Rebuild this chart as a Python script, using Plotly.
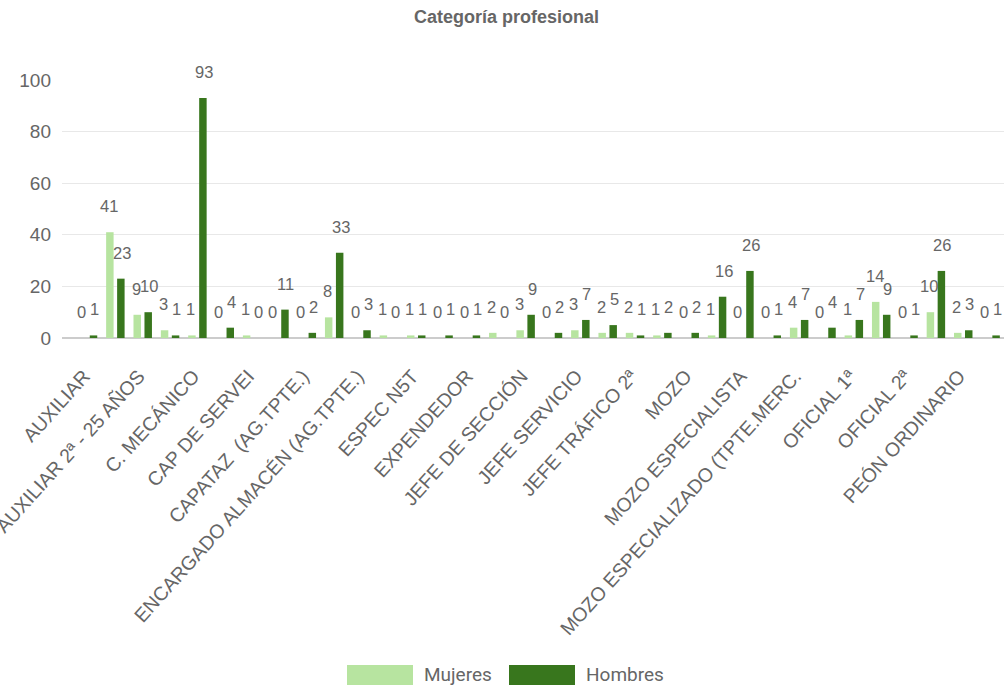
import plotly.graph_objects as go

# Visible category labels (every other category carries a label on the axis)
tick_labels = [
    "AUXILIAR", "AUXILIAR 2ª - 25 AÑOS", "C. MECÁNICO", "CAP DE SERVEI",
    "CAPATAZ  (AG.TPTE.)", "ENCARGADO ALMACÉN (AG.TPTE.)", "ESPEC N5T",
    "EXPENDEDOR", "JEFE DE SECCIÓN", "JEFE SERVICIO", "JEFE TRÁFICO 2ª",
    "MOZO", "MOZO ESPECIALISTA", "MOZO ESPECIALIZADO (TPTE.MERC.",
    "OFICIAL 1ª", "OFICIAL 2ª", "PEÓN ORDINARIO",
]
mujeres = [0, 41, 9, 3, 1, 0, 1, 0, 0, 8, 0, 1, 1, 0, 0, 2, 3,
           0, 3, 2, 2, 1, 0, 1, 0, 0, 4, 0, 1, 14, 0, 10, 2, 0]
hombres = [1, 23, 10, 1, 93, 4, 0, 11, 2, 33, 3, 0, 1, 1, 1, 0, 9,
           2, 7, 5, 1, 2, 2, 16, 26, 1, 7, 4, 7, 9, 1, 26, 3, 1]
y_ticks = [0, 20, 40, 60, 80, 100]

positions = list(range(len(mujeres)))
tick_positions = positions[::2]

W, H = 1005, 698
L, R, T, B = 62, 1, 80, 360
FONT = "Arial, Liberation Sans, sans-serif"
TEXT_GRAY = "#666666"
LIGHT = "#b7e4a0"
DARK = "#38761d"
BARGAP = 0.196
GROUPGAP = 0.32
SERIES_OFFSET = (1 - BARGAP) / 4  # half the slot width of one series in a group


def px(x):
    return (x - L) / (W - L - R)


def py(y):
    return (H - B - y) / (H - T - B)


fig = go.Figure()
series = [("Mujeres", mujeres, LIGHT, -SERIES_OFFSET, -1),
          ("Hombres", hombres, DARK, SERIES_OFFSET, 1)]
for name, vals, color, dx, nudge in series:
    fig.add_trace(go.Bar(
        x=positions, y=vals, name=name, marker_color=color,
        marker_line_width=0, showlegend=False,
    ))
    # value labels sit a little above each bar
    for i, v in zip(positions, vals):
        fig.add_annotation(
            x=i + dx, y=v, xref="x", yref="y", text=str(v),
            showarrow=False, xanchor="center", yanchor="bottom",
            yshift=15, xshift=nudge,
            font=dict(family=FONT, size=16.5, color=TEXT_GRAY),
        )

fig.update_layout(
    width=W, height=H,
    margin=dict(l=L, r=R, t=T, b=B, autoexpand=False),
    paper_bgcolor="white", plot_bgcolor="white",
    barmode="group", bargap=BARGAP, bargroupgap=GROUPGAP,
    title=dict(text="<b>Categoría profesional</b>", x=0.504, xanchor="center",
               y=1 - 17 / H, yanchor="middle",
               font=dict(family=FONT, size=18, color=TEXT_GRAY)),
    xaxis=dict(
        range=[-0.951, 33.49],
        tickmode="array", tickvals=tick_positions, ticktext=tick_labels,
        tickangle=-48, automargin=False, showgrid=False, ticks="",
        ticklabelstandoff=22, ticklabelshift=-4, ticklabeloverflow="allow",
        tickfont=dict(family=FONT, size=19.5, color=TEXT_GRAY),
        showline=False, zeroline=False,
    ),
    yaxis=dict(
        range=[0, 100], tickvals=y_ticks, automargin=False,
        showgrid=True, gridcolor="#e8e8e8", gridwidth=1,
        zeroline=True, zerolinecolor="#cccccc", zerolinewidth=1.5,
        tickfont=dict(family=FONT, size=19, color=TEXT_GRAY),
        ticklabelstandoff=10,
    ),
)

# Legend drawn below the axis labels
legend_items = [("Mujeres", LIGHT, 347), ("Hombres", DARK, 509)]
for name, color, x0 in legend_items:
    fig.add_shape(type="rect", xref="paper", yref="paper",
                  x0=px(x0), x1=px(x0 + 66), y0=py(685), y1=py(665),
                  fillcolor=color, line=dict(width=0))
    fig.add_annotation(xref="paper", yref="paper", x=px(x0 + 75), y=py(674),
                       xanchor="left", yanchor="middle", showarrow=False,
                       text=name,
                       font=dict(family="Roboto, " + FONT, size=19, color=TEXT_GRAY))

fig.write_html("out.html")
